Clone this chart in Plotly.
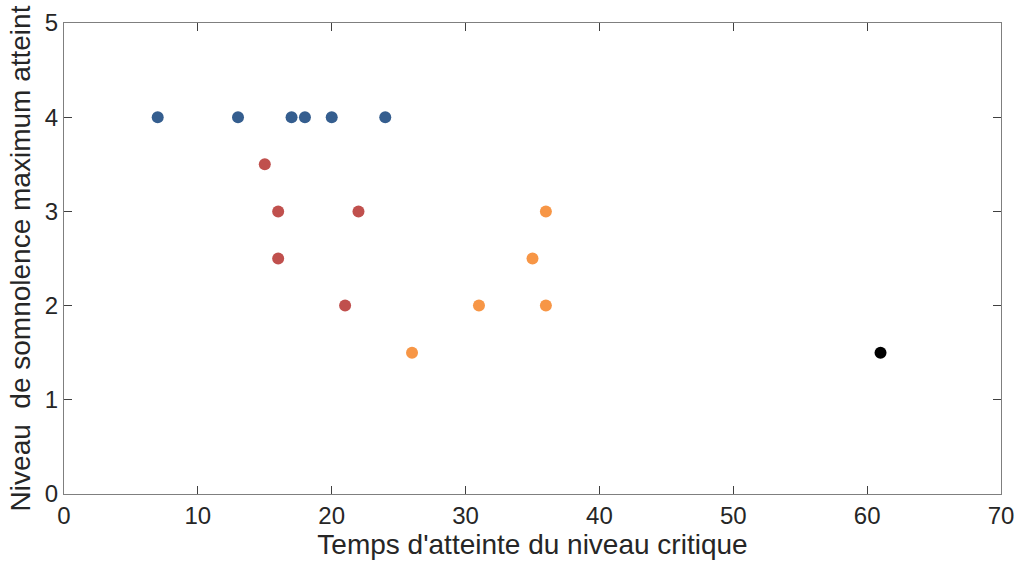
import plotly.graph_objects as go

blue_x = [7, 13, 17, 18, 20, 24]
blue_y = [4, 4, 4, 4, 4, 4]
red_x = [15, 16, 16, 22, 21]
red_y = [3.5, 3, 2.5, 3, 2]
orange_x = [26, 31, 35, 36, 36]
orange_y = [1.5, 2, 2.5, 3, 2]
black_x = [61]
black_y = [1.5]

x_ticks = [0, 10, 20, 30, 40, 50, 60, 70]
y_ticks = [0, 1, 2, 3, 4, 5]

fig = go.Figure()
for xs, ys, c in [(blue_x, blue_y, "#355e8f"), (red_x, red_y, "#c0504d"),
                  (orange_x, orange_y, "#f79646"), (black_x, black_y, "#000000")]:
    fig.add_trace(go.Scatter(x=xs, y=ys, mode="markers",
                             marker=dict(color=c, size=12, line=dict(width=0)),
                             showlegend=False))

FONT = "Liberation Sans, Arial"
axis_common = dict(showgrid=False, zeroline=False, showline=True, linecolor="#7f7f7f",
                   linewidth=1, mirror="ticks", ticks="inside", ticklen=8,
                   tickcolor="#404040", automargin=False,
                   tickfont=dict(family=FONT, size=24, color="#262626"))

fig.update_xaxes(range=[0, 70], tickvals=x_ticks,
                 title=dict(text="Temps d'atteinte du niveau critique",
                            font=dict(family=FONT, size=28, color="#262626"),
                            standoff=4),
                 **axis_common)
fig.update_yaxes(range=[0, 5], tickvals=y_ticks,
                 title=dict(text="Niveau  de somnolence maximum atteint",
                            font=dict(family=FONT, size=28, color="#262626"),
                            standoff=6),
                 **axis_common)

fig.update_layout(width=1018, height=570, plot_bgcolor="white", paper_bgcolor="white",
                  margin=dict(l=64, r=17, t=23, b=76))

fig.write_html("out.html")
